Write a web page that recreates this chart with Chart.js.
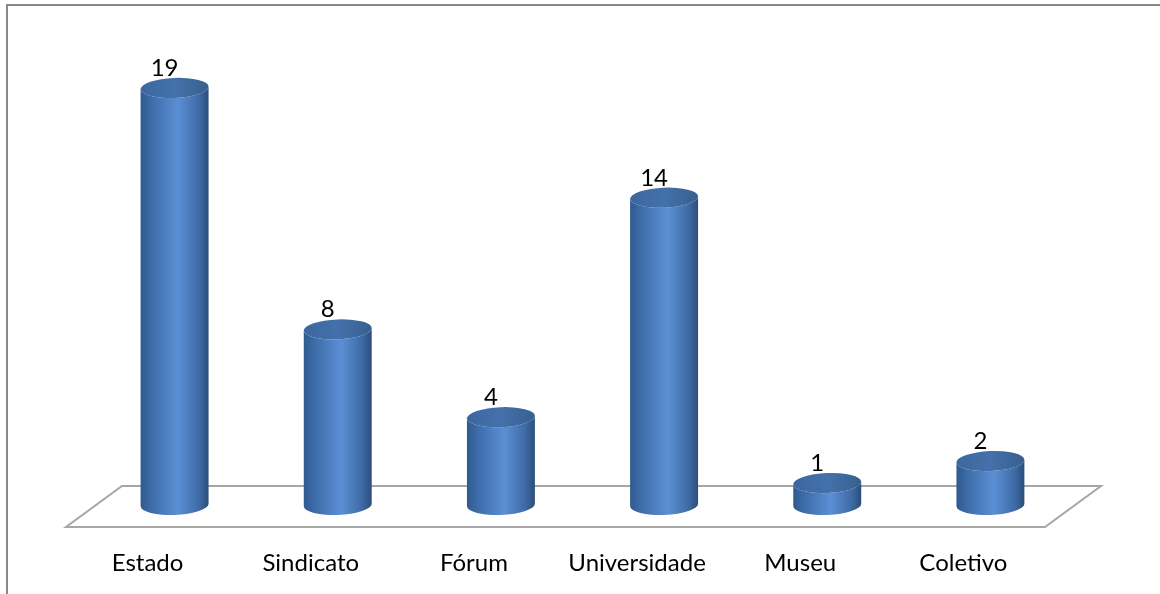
<!DOCTYPE html>
<html>
<head>
<meta charset="utf-8">
<script src="https://cdn.jsdelivr.net/npm/chart.js@4.4.0/dist/chart.umd.min.js"></script>
<style>
  html, body { margin: 0; padding: 0; background: #fff; }
  #wrap { width: 1160px; height: 594px; position: relative; }
</style>
</head>
<body>
<div id="wrap"><canvas id="chart" width="1160" height="594"></canvas></div>
<script>
// Categorias e valores
const categorias = ["Estado", "Sindicato", "Fórum", "Universidade", "Museu", "Coletivo"];
const valores = [19, 8, 4, 14, 1, 2];

const FONTE = "Lato, 'Open Sans', sans-serif";

// moldura cinza em volta do gráfico
const moldura = {
  id: "moldura",
  beforeDraw(chart) {
    const ctx = chart.ctx;
    ctx.save();
    ctx.fillStyle = "#fff";
    ctx.fillRect(0, 0, chart.width, chart.height);
    ctx.strokeStyle = "#898989";
    ctx.lineWidth = 2;
    ctx.strokeRect(7, 5, chart.width + 10, chart.height + 10);
    ctx.restore();
  }
};

// piso em perspectiva
const piso = {
  id: "piso",
  beforeDatasetsDraw(chart) {
    const { ctx, chartArea } = chart;
    const base = chart.scales.y.getPixelForValue(0);
    const yf = base + 22, yb = base - 19, dx = 56;
    ctx.save();
    ctx.strokeStyle = "#a6a6a6";
    ctx.lineWidth = 2;
    ctx.beginPath();
    ctx.moveTo(chartArea.left, yf);
    ctx.lineTo(chartArea.right, yf);
    ctx.lineTo(chartArea.right + dx, yb);
    ctx.lineTo(chartArea.left + dx, yb);
    ctx.closePath();
    ctx.stroke();
    ctx.restore();
  }
};

// cilindros + rótulos de valor
const cilindros = {
  id: "cilindros",
  afterDatasetsDraw(chart) {
    const ctx = chart.ctx;
    const meta = chart.getDatasetMeta(0);
    const rot = -0.04;
    meta.data.forEach((el, i) => {
      const w = el.width;
      const rx = w / 2, ry = 10;
      const cx = el.x + 27;
      const top = el.y, base = el.base;

      const g = ctx.createLinearGradient(cx - rx, 0, cx + rx, 0);
      g.addColorStop(0, "#2f5a8f");
      g.addColorStop(0.15, "#3d6ba8");
      g.addColorStop(0.55, "#5b8fd4");
      g.addColorStop(0.85, "#3f6ca7");
      g.addColorStop(1, "#2b4e7b");

      ctx.save();
      ctx.beginPath();
      ctx.ellipse(cx, top, rx, ry, rot, Math.PI, 0, true);
      ctx.ellipse(cx, base, rx, ry, rot, 0, Math.PI, false);
      ctx.closePath();
      ctx.fillStyle = g;
      ctx.fill();

      const gt = ctx.createLinearGradient(cx - rx, 0, cx + rx, 0);
      gt.addColorStop(0, "#3d669d");
      gt.addColorStop(0.5, "#4471ab");
      gt.addColorStop(1, "#37608f");
      ctx.beginPath();
      ctx.ellipse(cx, top, rx, ry, rot, 0, Math.PI * 2);
      ctx.fillStyle = gt;
      ctx.fill();

      ctx.fillStyle = "#000";
      ctx.font = "24px " + FONTE;
      ctx.textAlign = "center";
      ctx.textBaseline = "alphabetic";
      ctx.fillText(String(valores[i]), cx - 10, top - ry - 2);
      ctx.restore();
    });
  }
};

new Chart(document.getElementById("chart"), {
  type: "bar",
  data: {
    labels: categorias,
    datasets: [{
      data: valores,
      backgroundColor: "rgba(0,0,0,0)",
      borderWidth: 0,
      barThickness: 68
    }]
  },
  options: {
    responsive: false,
    animation: false,
    layout: { padding: { left: 66, right: 115, top: 66, bottom: 18 } },
    plugins: { legend: { display: false }, tooltip: { enabled: false } },
    scales: {
      x: {
        grid: { display: false, drawTicks: false },
        border: { display: false },
        ticks: { padding: 44, color: "#000", font: { family: FONTE, size: 24 } },
        afterFit(scale) { scale.height = 71; }
      },
      y: { display: false, min: 0, max: 20 }
    }
  },
  plugins: [moldura, piso, cilindros]
});
</script>
</body>
</html>
